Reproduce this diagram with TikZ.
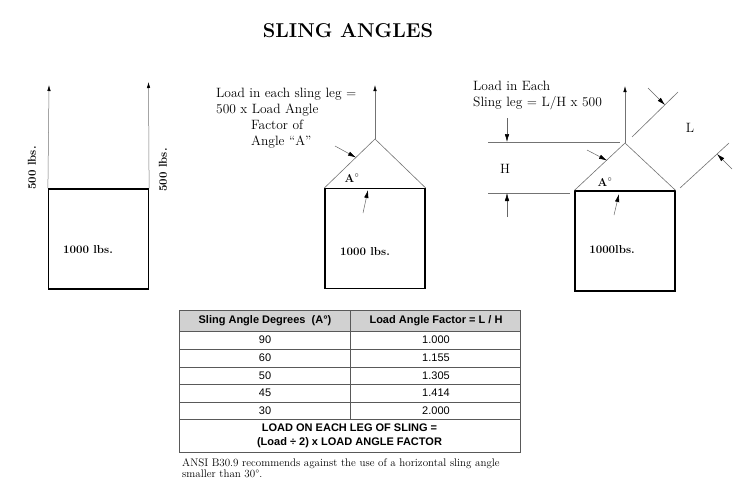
\documentclass[tikz,border=0pt]{standalone}
\usepackage{fontspec}
\newfontfamily\tabfont{Liberation Sans}
\usetikzlibrary{arrows.meta}

\begin{document}
\begin{tikzpicture}[x=1pt,y=-1pt,
 load/.style={draw,line width=1.2pt,minimum width=100pt,minimum height=100pt,inner sep=0pt},
 leg/.style={draw=black!55,line width=0.6pt},
 pull/.style={-{Latex[length=6pt,width=3.4pt,color=black]},line width=0.5pt,draw=black!55},
 ptr/.style={-{Latex[length=8pt,width=4.4pt,color=black]},line width=0.5pt,draw=black!60},
 wt/.style={font=\fontsize{11.5}{13}\selectfont\bfseries,inner sep=0pt},
 note/.style={font=\fontsize{13.5}{16}\selectfont,align=left,inner sep=0pt},
 grid/.style={draw=black!65,line width=0.7pt},
 cell/.style={font=\tabfont\fontsize{11}{13}\selectfont,inner sep=0pt}]
\useasboundingbox (0,0) rectangle (751,493);
\node[font=\fontsize{20}{24}\selectfont\bfseries] (title) at (348,31) {SLING ANGLES};

\node[load] (boxL) at (98.5,239) {};
\coordinate (topL1) at (49,85);
\coordinate (topL2) at (148.5,82);
\draw[pull] (boxL.north west) -- (topL1);
\draw[pull] (boxL.north east) -- (topL2);
\node[wt,rotate=90] (forceL1) at (32,168) {500 lbs.};
\node[wt,rotate=90] (forceL2) at (163,170) {500 lbs.};
\node[wt] (wtL) at (88,250) {1000 lbs.};

\node[load] (boxM) at (375,238.5) {};
\coordinate (apexM) at (375,139);
\coordinate (topM) at (375,85);
\draw[leg] (boxM.north west) -- (apexM) -- (boxM.north east);
\draw[pull] (apexM) -- (topM);
\coordinate (legM0) at (335,146);
\coordinate (legM1) at (356,157.5);
\coordinate (boxM0) at (363,213);
\coordinate (boxM1) at (368,190);
\draw[ptr] (legM0) -- (legM1);
\draw[ptr] (boxM0) -- (boxM1);
\node[wt] (angM) at (352,178) {A$^{\circ}$};
\node[wt] (wtM) at (365,252) {1000 lbs.};
\node[note,anchor=north west] (textM) at (216,88) {Load in each sling leg =\\500 x Load Angle\\\hspace*{35pt}Factor of\\\hspace*{35pt}Angle “A”};

\node[load] (boxR) at (625,241) {};
\coordinate (apexR) at (625,143);
\coordinate (topR) at (625,86);
\draw[leg] (boxR.north west) -- (apexR) -- (boxR.north east);
\draw[pull] (apexR) -- (topR);
\coordinate (hTop0) at (488,142);
\coordinate (hTop1) at (620,142);
\coordinate (hBot0) at (488,193);
\coordinate (hBot1) at (570,193);
\draw[leg] (hTop0) -- (hTop1);
\draw[leg] (hBot0) -- (hBot1);
\coordinate (hArrT0) at (507,118);
\coordinate (hArrT1) at (507,142);
\coordinate (hArrB0) at (507,217);
\coordinate (hArrB1) at (507,193);
\draw[ptr] (hArrT0) -- (hArrT1);
\draw[ptr] (hArrB0) -- (hArrB1);
\node[note] (hlbl) at (505,169) {H};
\coordinate (lTop0) at (632,137);
\coordinate (lTop1) at (678,92);
\coordinate (lBot0) at (680,188);
\coordinate (lBot1) at (729,143);
\draw[leg] (lTop0) -- (lTop1);
\draw[leg] (lBot0) -- (lBot1);
\coordinate (lArrT0) at (648,88);
\coordinate (lArrT1) at (665,105);
\coordinate (lArrB0) at (732,169);
\coordinate (lArrB1) at (717,154);
\draw[ptr] (lArrT0) -- (lArrT1);
\draw[ptr] (lArrB0) -- (lArrB1);
\node[note] (llbl) at (690,128) {L};
\coordinate (legR0) at (587,150);
\coordinate (legR1) at (607,160.5);
\coordinate (boxR0) at (614,215);
\coordinate (boxR1) at (619,194);
\draw[ptr] (legR0) -- (legR1);
\draw[ptr] (boxR0) -- (boxR1);
\node[wt] (angR) at (605,182) {A$^{\circ}$};
\node[wt] (wtR) at (612,250) {1000lbs.};
\node[note,anchor=north west] (textR) at (473,81) {Load in Each\\Sling leg = L/H x 500};

\fill[black!18] (179,310) rectangle (520,331);
\draw[grid] (179,310) rectangle (520,452);
\foreach \y in {331,349,367,384,402,419}
  \draw[grid] (179,\y) -- (520,\y);
\draw[grid] (350,310) -- (350,419);
\node[cell,font=\tabfont\fontsize{11}{13}\selectfont\bfseries] (head1) at (265,320.5) {Sling Angle Degrees\ \ (A°)};
\node[cell,font=\tabfont\fontsize{11}{13}\selectfont\bfseries] (head2) at (436,320.5) {Load Angle Factor = L / H};
\foreach \a/\f/\y in {90/1.000/340,60/1.155/358,50/1.305/375.5,45/1.414/393,30/2.000/410.5}{
  \node[cell] (deg\a) at (265,\y) {\a};
  \node[cell] (fac\a) at (436,\y) {\f};
}
\node[cell,font=\tabfont\fontsize{11}{14}\selectfont\bfseries,align=center] (rule) at (349.5,435.5) {LOAD ON EACH LEG OF SLING =\\(Load ÷ 2) x LOAD ANGLE FACTOR};
\node[anchor=north west,inner sep=0pt,align=left,font=\fontsize{11}{11.5}\selectfont] (ansi) at (182,458) {ANSI B30.9 recommends against the use of a horizontal sling angle\\smaller than 30°.};
\end{tikzpicture}
\end{document}
